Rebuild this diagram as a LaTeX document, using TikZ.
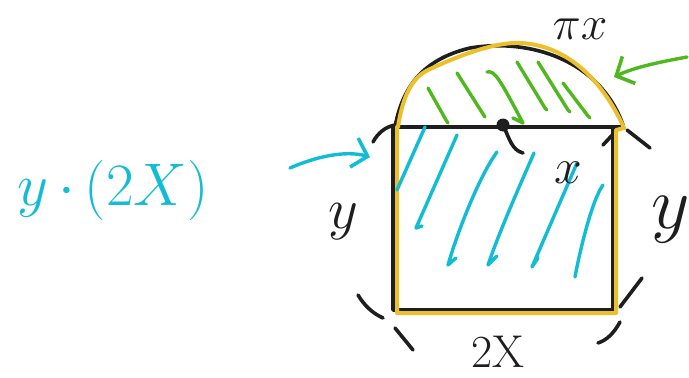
\documentclass[tikz,border=0pt]{standalone}
\usetikzlibrary{arrows.meta}
\definecolor{ink}{HTML}{1E1E1E}
\definecolor{gold}{HTML}{EBC02A}
\definecolor{aqua}{HTML}{12BCD4}
\definecolor{leaf}{HTML}{4FB81E}
\begin{document}
\begin{tikzpicture}[x=1pt,y=-1pt,line cap=round,line join=round,
  blk/.style={draw=ink,line width=3.6pt},
  yel/.style={draw=gold,line width=4pt},
  cyn/.style={draw=aqua,line width=3.4pt},
  grn/.style={draw=leaf,line width=3.4pt},
  lbl/.style={text=ink,inner sep=0pt,font=\fontsize{20}{20}\selectfont,scale=#1/20},
  barb/.style={-{Straight Barb[length=14pt,width=30pt,line width=3.6pt]}}]
\useasboundingbox (0,0) rectangle (689,378);
% black outline
\draw[blk] (393,127) -- (393,310) -- (613,310) -- (613,127);
\draw[blk] (395,127) .. controls (402,90) and (420,60) .. (470,48) .. controls (530,38) and (600,60) .. (623,125);
\draw[blk] (395,127) -- (622,127);
% radius ticks
\draw[blk] (373,142) .. controls (378,133) and (385,127) .. (395,125);
\draw[blk] (603,145) -- (617,130);
\draw[blk] (627,130) -- (650,148);
\draw[blk] (358,295) .. controls (364,305) and (372,313) .. (383,318);
\draw[blk] (395,328) -- (413,350);
\draw[blk] (642,278) -- (620,307);
\draw[blk] (620,322) .. controls (614,333) and (607,340) .. (598,343);
% centre dot
\coordinate (c) at (503,125);
\fill[ink] (c) circle (6.5pt);
\draw[blk] (c) .. controls (510,140) and (512,150) .. (523,153);
% yellow outline
\draw[yel] (397,127) -- (397,313) -- (616,313) -- (616,130) -- (624,128);
\draw[yel] (398,127) .. controls (403,95) and (412,78) .. (428,70) .. controls (460,55) and (495,42) .. (520,43) .. controls (570,45) and (605,85) .. (624,128);
% green hatching
\draw[grn] (428,88) -- (446,120) -- (448,123);
\draw[grn] (457,73) -- (483,114) -- (485,117);
\draw[grn] (487,72) .. controls (495,70) and (500,80) .. (523,123) -- (513,118);
\draw[grn] (517,62) -- (545,108) -- (547,110);
\draw[grn] (538,62) -- (568,110) -- (570,112);
\draw[grn] (563,83) -- (588,116) -- (590,118);
% cyan hatching
\draw[cyn] (425,127) -- (397,190);
\draw[cyn] (457,135) -- (416,228) -- (422,226);
\draw[cyn] (497,152) .. controls (480,175) and (458,230) .. (448,265) -- (456,258);
\draw[cyn] (534,153) .. controls (520,185) and (500,230) .. (488,265) -- (497,256);
\draw[cyn] (577,163) -- (532,267) -- (538,258);
\draw[cyn] (603,185) .. controls (592,200) and (580,250) .. (575,277);
% labels
\node[lbl=46] (pi) at (580,29) {$\pi x$};
\node[lbl=48] (xr) at (568,173) {$x$};
\node[lbl=56] (yl) at (343,222) {$y$};
\node[lbl=72] (yr) at (671,220) {$y$};
\node[lbl=46] (two) at (498,352) {2X};
\node[lbl=58,text=aqua] (area) at (113,190) {$y\,{\cdot}\,(2X)$};
% arrows
\coordinate (gs) at (687,57);
\coordinate (ge) at (614,77);
\draw[grn,barb] (gs) .. controls (660,62) and (635,67) .. (ge);
\coordinate (cs) at (290,168);
\coordinate (ce) at (370,157);
\draw[cyn,barb] (cs) .. controls (315,157) and (345,150) .. (ce);
\end{tikzpicture}
\end{document}
